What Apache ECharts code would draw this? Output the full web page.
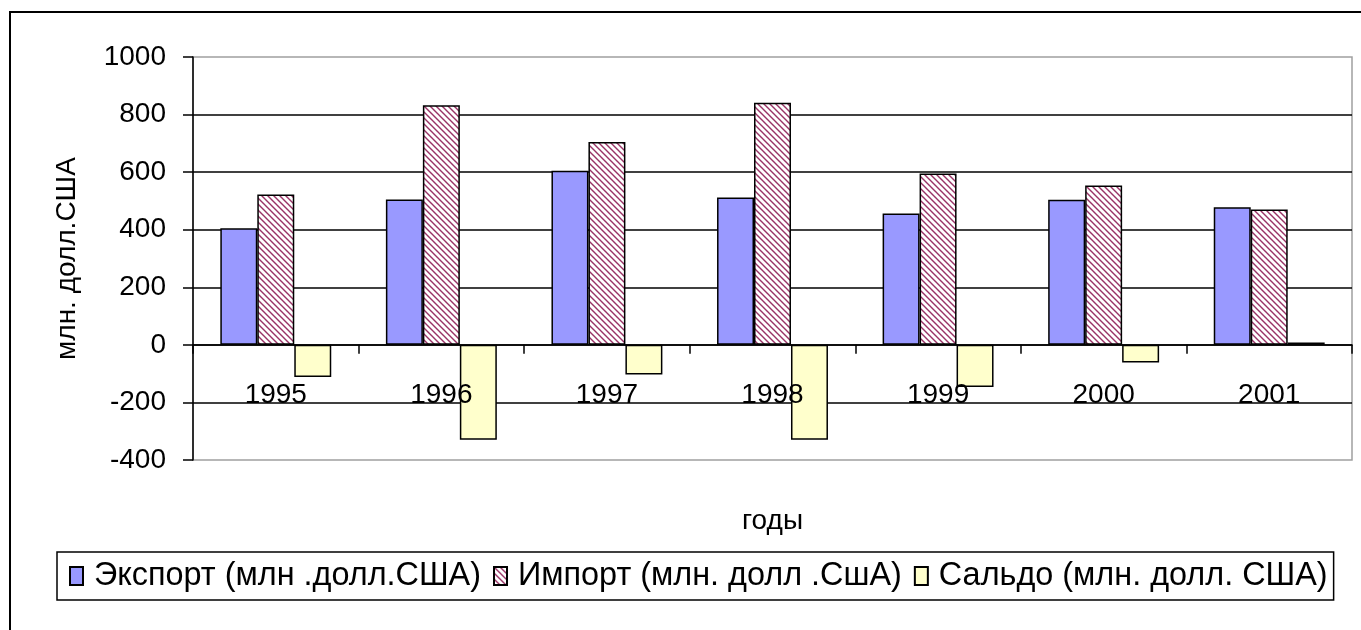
<!DOCTYPE html>
<html>
<head>
<meta charset="utf-8">
<title>Экспорт / импорт</title>
<script src="https://cdn.jsdelivr.net/npm/echarts@6/dist/echarts.min.js"></script>
<style>
  html, body { margin: 0; padding: 0; background: #fff; }
  #chart { width: 1361px; height: 630px; }
</style>
</head>
<body>
<div id="chart"></div>
<script>
const years = ['1995', '1996', '1997', '1998', '1999', '2000', '2001']
const exportData = [405, 505, 605, 512, 456, 504, 478]
const importData = [522, 832, 705, 841, 595, 554, 470]
const saldoData = [-112, -330, -103, -330, -146, -61, 8]
const yTicks = [-400, -200, 0, 200, 400, 600, 800, 1000]

const font = '"Liberation Sans", Arial, sans-serif'

// hatch fill for import bars (\\\ lines)
function makeHatch() {
  const c = document.createElement('canvas')
  c.width = 6
  c.height = 6
  const ctx = c.getContext('2d')
  ctx.fillStyle = '#fff'
  ctx.fillRect(0, 0, 6, 6)
  ctx.strokeStyle = '#993366'
  ctx.lineWidth = 1.4
  ctx.beginPath()
  ctx.moveTo(-1, -1); ctx.lineTo(7, 7)
  ctx.moveTo(-1, 5); ctx.lineTo(1, 7)
  ctx.moveTo(5, -1); ctx.lineTo(7, 1)
  ctx.stroke()
  return c
}

const chart = echarts.init(document.getElementById('chart'))
const border = { borderColor: '#000', borderWidth: 1.5 }

chart.setOption({
  animation: false,
  textStyle: { fontFamily: font, color: '#000' },
  graphic: [{
    type: 'rect',
    shape: { x: 10, y: 12, width: 1400, height: 700 },
    style: { fill: 'none', stroke: '#000', lineWidth: 2 },
    silent: true
  }],
  legend: {
    left: 57,
    top: 552,
    padding: [8, 6, 8, 12],
    borderColor: '#000',
    borderWidth: 1.5,
    backgroundColor: '#fff',
    itemWidth: 13,
    itemHeight: 18,
    itemGap: 12,
    icon: 'rect',
    textStyle: { fontFamily: font, fontSize: 32.4, color: '#000', padding: [0, 0, 0, 6] },
    data: ['Экспорт (млн .долл.США)', 'Импорт (млн. долл .СшА)', 'Сальдо (млн. долл. США)']
  },
  grid: {
    left: 193,
    top: 57,
    right: 9,
    bottom: 170,
    outerBoundsMode: 'none',
    show: true,
    borderColor: '#a0a0a0',
    borderWidth: 1.5
  },
  xAxis: {
    type: 'category',
    data: years,
    z: 3, // year labels sit on top of the bars, as in the original
    name: 'годы',
    nameLocation: 'middle',
    nameGap: 47,
    nameTextStyle: { fontSize: 28, color: '#000' },
    axisLine: { onZero: true, lineStyle: { color: '#000', width: 1.5 } },
    axisTick: { show: true, length: 9, lineStyle: { color: '#000', width: 1.5 } },
    axisLabel: { fontSize: 28, color: '#000', margin: -79 }
  },
  yAxis: {
    type: 'value',
    min: yTicks[0],
    max: yTicks[yTicks.length - 1],
    interval: 200,
    name: 'млн. долл.США',
    nameLocation: 'middle',
    nameGap: 112,
    nameTextStyle: { fontSize: 28, color: '#000' },
    axisLine: { show: true, lineStyle: { color: '#000', width: 1.5 } },
    axisTick: { show: true, length: 10, lineStyle: { color: '#000', width: 1.5 } },
    axisLabel: { fontSize: 28, color: '#000', margin: 27, formatter: v => String(v) },
    splitLine: {
      show: true,
      showMinLine: false,
      showMaxLine: false,
      lineStyle: { color: '#000', width: 1.5 }
    }
  },
  series: [{
    name: 'Экспорт (млн .долл.США)',
    type: 'bar',
    data: exportData,
    barGap: '0%',
    barCategoryGap: '33%',
    itemStyle: Object.assign({ color: '#9999ff' }, border)
  }, {
    name: 'Импорт (млн. долл .СшА)',
    type: 'bar',
    data: importData,
    itemStyle: Object.assign({ color: { image: makeHatch(), repeat: 'repeat' } }, border)
  }, {
    name: 'Сальдо (млн. долл. США)',
    type: 'bar',
    data: saldoData,
    itemStyle: Object.assign({ color: '#ffffcc' }, border)
  }]
})
</script>
</body>
</html>
